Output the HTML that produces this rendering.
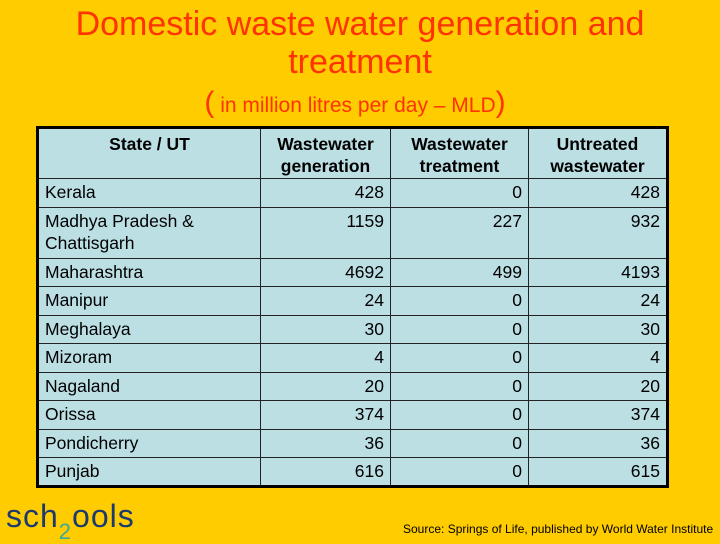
<!DOCTYPE html>
<html><head><meta charset="utf-8">
<style>
body{margin:0;width:720px;height:540px;background:#FFCC00;font-family:"Liberation Sans",Arial,sans-serif;position:relative;overflow:hidden}
.t{position:absolute;left:0;width:720px;text-align:center;color:#FF3300;font-size:34px}
table{position:absolute;left:36px;top:126px;border-collapse:collapse;border:3px solid #000;background:#BCDFE4}
td,th{border:1px solid #222;font-size:17.5px;color:#000;padding:0 6px;vertical-align:top}
th{font-weight:bold;text-align:center;padding-top:4px;line-height:22px}
td{line-height:22px;padding-top:2px}
td.n{text-align:right}
tr.r{height:28.5px}
</style></head><body>
<div class="t" style="top:5px">Domestic waste water generation and</div>
<div class="t" style="top:43px">treatment</div>
<div class="t" style="top:86px;font-size:21px;left:-5px"><span style="font-size:30px">(</span> in million litres per day – MLD<span style="font-size:30px">)</span></div>
<table>
<colgroup><col style="width:223px"><col style="width:130px"><col style="width:138px"><col style="width:139px"></colgroup>
<tr style="height:51px"><th style="vertical-align:top">State / UT</th><th>Wastewater<br>generation</th><th>Wastewater<br>treatment</th><th>Untreated<br>wastewater</th></tr>
<tr class="r"><td>Kerala</td><td class="n">428</td><td class="n">0</td><td class="n">428</td></tr>
<tr style="height:51px"><td>Madhya Pradesh &amp;<br>Chattisgarh</td><td class="n">1159</td><td class="n">227</td><td class="n">932</td></tr>
<tr class="r"><td>Maharashtra</td><td class="n">4692</td><td class="n">499</td><td class="n">4193</td></tr>
<tr class="r"><td>Manipur</td><td class="n">24</td><td class="n">0</td><td class="n">24</td></tr>
<tr class="r"><td>Meghalaya</td><td class="n">30</td><td class="n">0</td><td class="n">30</td></tr>
<tr class="r"><td>Mizoram</td><td class="n">4</td><td class="n">0</td><td class="n">4</td></tr>
<tr class="r"><td>Nagaland</td><td class="n">20</td><td class="n">0</td><td class="n">20</td></tr>
<tr class="r"><td>Orissa</td><td class="n">374</td><td class="n">0</td><td class="n">374</td></tr>
<tr class="r"><td>Pondicherry</td><td class="n">36</td><td class="n">0</td><td class="n">36</td></tr>
<tr class="r"><td>Punjab</td><td class="n">616</td><td class="n">0</td><td class="n">615</td></tr>
</table>
<div style="position:absolute;left:6px;top:498px;font-size:32px;color:#1c3a6e;font-family:'Liberation Sans',sans-serif;letter-spacing:1px">sch<span style="color:#3aa89a;font-size:22px;position:relative;top:12px">2</span>ools</div>
<div style="position:absolute;left:403px;top:522px;font-size:12px;color:#000">Source: Springs of Life, published by World Water Institute</div>
</body></html>
